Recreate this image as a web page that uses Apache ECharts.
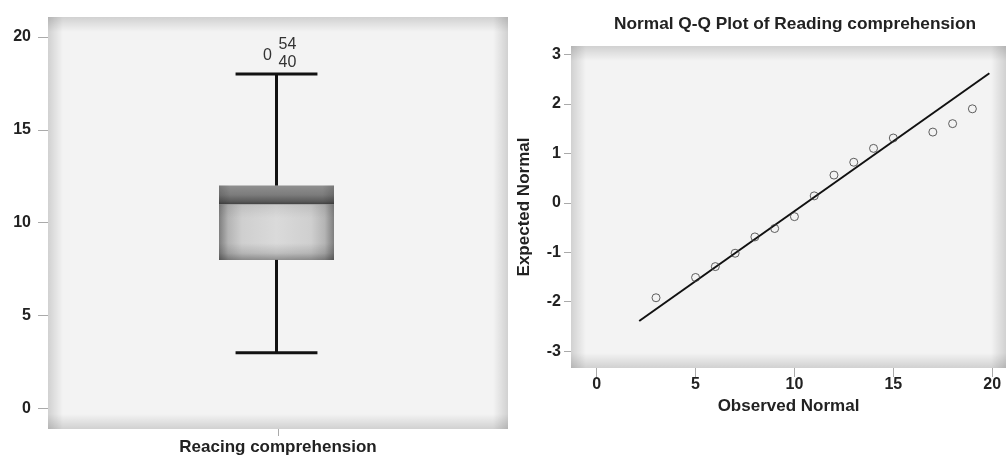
<!DOCTYPE html>
<html>
<head>
<meta charset="utf-8">
<style>
  html, body { margin: 0; padding: 0; background: #fff; }
  #chart { width: 1006px; height: 456px; }
</style>
</head>
<body>
<div id="chart"></div>
<script src="https://cdn.jsdelivr.net/npm/echarts@6/dist/echarts.min.js"></script>
<script>
// left: box plot
var boxCategories = ['Reacing comprehension'];
var boxStats = [3, 8, 11, 12, 18]; // min, Q1, median, Q3, max
var outlierValues = [19];
var outlierCases = ['54', '40'];
var boxTicks = [0, 5, 10, 15, 20];

// right: normal Q-Q plot
var qqObserved = [3, 5, 6, 7, 8, 9, 10, 11, 12, 13, 14, 15, 17, 18, 19];
var qqExpected = [-1.92, -1.51, -1.29, -1.02, -0.69, -0.52, -0.28, 0.14, 0.56, 0.82, 1.10, 1.31, 1.43, 1.60, 1.90];
var qqLineX = [2.15, 19.86];
var qqLineY = [-2.39, 2.62];
var qqXTicks = [0, 5, 10, 15, 20];
var qqYTicks = [-3, -2, -1, 0, 1, 2, 3];

var FONT = '"Liberation Sans", Arial, sans-serif';
var tickLabel = { fontFamily: FONT, fontSize: 16, fontWeight: 'bold', color: '#222' };
var tickLine = { lineStyle: { color: '#aaa', width: 1 } };

function grad(x2, y2, stops) {
  return {
    type: 'linear', x: 0, y: 0, x2: x2, y2: y2,
    colorStops: stops.map(function (s) { return { offset: s[0], color: s[1] }; })
  };
}

// soft darkening at the plot edges
function renderVignette(params) {
  var r = params.coordSys;
  var edgeH = 15 / r.width, edgeV = 15 / r.height;
  var dark = 'rgba(0,0,0,0.14)', clear = 'rgba(0,0,0,0)';
  return {
    type: 'group', silent: true,
    children: [
      { type: 'rect', shape: { x: r.x, y: r.y, width: r.width, height: r.height },
        style: { fill: grad(1, 0, [[0, dark], [edgeH, clear], [1 - edgeH, clear], [1, dark]]) } },
      { type: 'rect', shape: { x: r.x, y: r.y, width: r.width, height: r.height },
        style: { fill: grad(0, 1, [[0, dark], [edgeV, clear], [1 - edgeV, clear], [1, dark]]) } }
    ]
  };
}

function renderBox(params, api) {
  var c = api.value(0);
  var pMin = api.coord([c, api.value(1)]);
  var cx = pMin[0] - 1.5;
  var yMin = pMin[1];
  var yQ1 = api.coord([c, api.value(2)])[1];
  var yMed = api.coord([c, api.value(3)])[1];
  var yQ3 = api.coord([c, api.value(4)])[1];
  var yMax = api.coord([c, api.value(5)])[1];
  var band = api.size([1, 0])[0];
  var bw = band * 0.25, cw = band * 0.178;
  var x0 = cx - bw / 2;
  var ink = { stroke: '#111', lineWidth: 3 };
  return {
    type: 'group',
    children: [
      { type: 'rect', shape: { x: x0, y: yMed, width: bw, height: yQ1 - yMed },
        style: { fill: grad(1, 0, [[0, '#7e7e7e'], [0.08, '#b4b4b4'], [0.2, '#cfcfcf'], [0.5, '#dadada'], [0.8, '#cfcfcf'], [0.92, '#b4b4b4'], [1, '#7e7e7e']]) } },
      { type: 'rect', shape: { x: x0, y: yMed, width: bw, height: yQ1 - yMed },
        style: { fill: grad(0, 1, [[0, 'rgba(0,0,0,0.08)'], [0.25, 'rgba(0,0,0,0)'], [0.7, 'rgba(0,0,0,0)'], [0.88, 'rgba(0,0,0,0.13)'], [1, 'rgba(0,0,0,0.34)']]) } },
      { type: 'rect', shape: { x: x0, y: yQ3, width: bw, height: yMed - yQ3 },
        style: { fill: grad(0, 1, [[0, '#8f8f8f'], [0.5, '#7c7c7c'], [0.85, '#5a5a5a'], [1, '#424242']]) } },
      { type: 'rect', shape: { x: x0, y: yQ3, width: bw, height: yMed - yQ3 },
        style: { fill: grad(1, 0, [[0, 'rgba(0,0,0,0.15)'], [0.1, 'rgba(0,0,0,0)'], [0.9, 'rgba(0,0,0,0)'], [1, 'rgba(0,0,0,0.15)']]) } },
      { type: 'line', shape: { x1: cx, y1: yQ1, x2: cx, y2: yMin }, style: ink },
      { type: 'line', shape: { x1: cx, y1: yQ3, x2: cx, y2: yMax }, style: ink },
      { type: 'line', shape: { x1: cx - cw / 2, y1: yMin, x2: cx + cw / 2, y2: yMin }, style: ink },
      { type: 'line', shape: { x1: cx - cw / 2, y1: yMax, x2: cx + cw / 2, y2: yMax }, style: ink }
    ]
  };
}

function renderOutlier(params, api) {
  var p = api.coord([api.value(0), api.value(1)]);
  var cx = p[0] - 1.5;
  var txt = { fontFamily: FONT, fontSize: 16, fill: '#333', align: 'center', verticalAlign: 'middle', lineHeight: 18 };
  return {
    type: 'group',
    children: [
      { type: 'text', x: cx - 9, y: p[1], style: Object.assign({ text: '0' }, txt) },
      { type: 'text', x: cx + 11, y: p[1] - 1.5, style: Object.assign({ text: outlierCases.join('\n') }, txt) }
    ]
  };
}

var chart = echarts.init(document.getElementById('chart'));
chart.setOption({
  animation: false,
  backgroundColor: '#fff',
  title: {
    text: 'Normal Q-Q Plot of Reading comprehension',
    left: 790, top: 11, textAlign: 'center',
    textStyle: { fontFamily: FONT, fontSize: 17.3, fontWeight: 'bold', color: '#222' }
  },
  grid: [
    { left: 48, top: 17, width: 460, height: 414, show: true, backgroundColor: '#f3f3f3', borderWidth: 0 },
    { left: 571, top: 46, width: 435, height: 322, show: true, backgroundColor: '#f3f3f3', borderWidth: 0 }
  ],
  xAxis: [
    {
      gridIndex: 0, type: 'category', data: boxCategories,
      axisLine: { show: false, onZero: false },
      axisTick: { show: true, alignWithLabel: true, length: 7, lineStyle: tickLine.lineStyle },
      axisLabel: { margin: 10, fontSize: 17, fontFamily: FONT, fontWeight: 'bold', color: '#222' },
      splitLine: { show: false }
    },
    {
      gridIndex: 1, type: 'value', min: -1.3, max: 20.7,
      name: 'Observed Normal', nameLocation: 'middle', nameGap: 27,
      nameTextStyle: { fontFamily: FONT, fontSize: 17, fontWeight: 'bold', color: '#222' },
      axisLine: { show: false, onZero: false },
      axisTick: { show: true, length: 9, customValues: qqXTicks, lineStyle: tickLine.lineStyle },
      axisLabel: Object.assign({ margin: 9, customValues: qqXTicks }, tickLabel),
      splitLine: { show: false }
    }
  ],
  yAxis: [
    {
      gridIndex: 0, type: 'value', min: -1.1, max: 21.07,
      axisLine: { show: false, onZero: false },
      axisTick: { show: true, length: 10, customValues: boxTicks, lineStyle: tickLine.lineStyle },
      axisLabel: Object.assign({ margin: 17, customValues: boxTicks }, tickLabel),
      splitLine: { show: false }
    },
    {
      gridIndex: 1, type: 'value', min: -3.34, max: 3.17,
      name: 'Expected Normal', nameLocation: 'middle', nameGap: 38,
      nameTextStyle: { fontFamily: FONT, fontSize: 17, fontWeight: 'bold', color: '#222' },
      axisLine: { show: false, onZero: false },
      axisTick: { show: true, length: 7, customValues: qqYTicks, lineStyle: tickLine.lineStyle },
      axisLabel: Object.assign({ margin: 10, customValues: qqYTicks }, tickLabel),
      splitLine: { show: false }
    }
  ],
  series: [
    { type: 'custom', xAxisIndex: 0, yAxisIndex: 0, silent: true, z: 1, data: [[0, 0]], renderItem: renderVignette },
    { type: 'custom', xAxisIndex: 1, yAxisIndex: 1, silent: true, z: 1, data: [[0, 0]], renderItem: renderVignette },
    {
      name: 'Reading comprehension', type: 'custom', xAxisIndex: 0, yAxisIndex: 0, z: 3,
      data: [[0].concat(boxStats)], renderItem: renderBox
    },
    {
      name: 'Outliers', type: 'custom', xAxisIndex: 0, yAxisIndex: 0, z: 3,
      data: outlierValues.map(function (v) { return [0, v]; }), renderItem: renderOutlier
    },
    {
      name: 'Reference line', type: 'line', xAxisIndex: 1, yAxisIndex: 1, z: 3,
      data: qqLineX.map(function (x, i) { return [x, qqLineY[i]]; }),
      symbol: 'none', lineStyle: { color: '#111', width: 2 }
    },
    {
      name: 'Observed', type: 'scatter', xAxisIndex: 1, yAxisIndex: 1, z: 4,
      data: qqObserved.map(function (x, i) { return [x, qqExpected[i]]; }),
      symbol: 'circle', symbolSize: 8,
      itemStyle: { color: 'rgba(0,0,0,0)', borderColor: '#3a3a3a', borderWidth: 1 }
    }
  ]
});
</script>
</body>
</html>
